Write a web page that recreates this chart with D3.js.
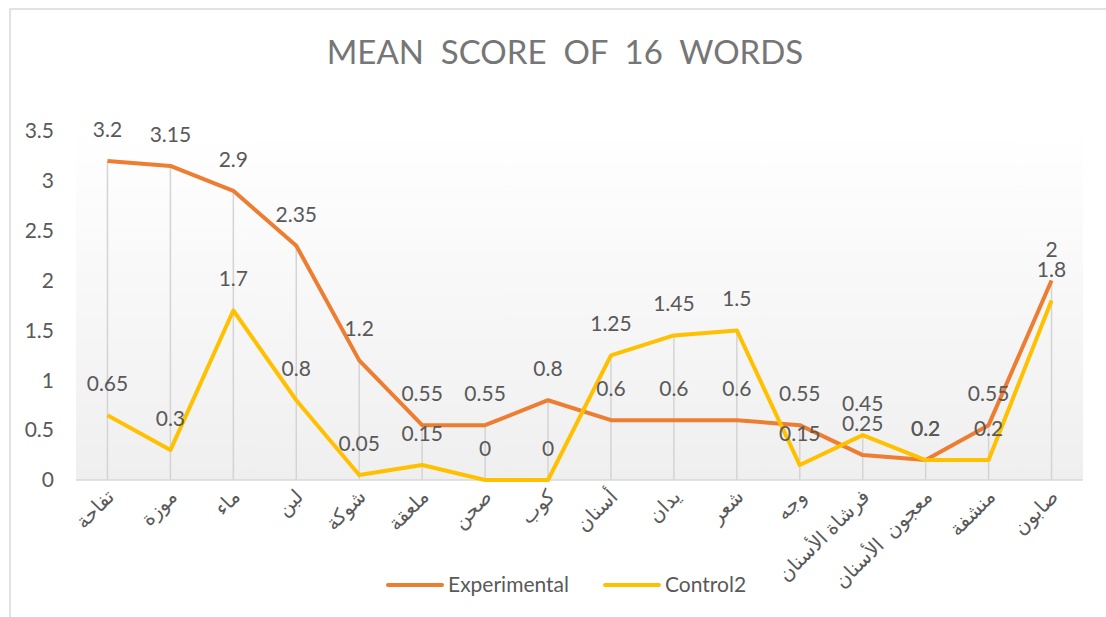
<!DOCTYPE html>
<html lang="en">
<head>
    <meta charset="utf-8">
    <script src="https://d3js.org/d3.v7.min.js"></script>
    <style>
        body { margin: 0; background: #fff; }
        text { font-family: Lato, "DejaVu Sans", sans-serif; }
    </style>
</head>
<body>
    <div id="chart"></div>
    <script>
        // data
        var words = ["تفاحة", "موزة", "ماء", "لبن", "شوكة", "ملعقة", "صحن", "كوب", "أسنان", "يدان", "شعر", "وجه", "فرشاة الأسنان", "معجون  الأسنان", "منشفة", "صابون"];
        var experimental = [3.2, 3.15, 2.9, 2.35, 1.2, 0.55, 0.55, 0.8, 0.6, 0.6, 0.6, 0.55, 0.25, 0.2, 0.55, 2];
        var control2 = [0.65, 0.3, 1.7, 0.8, 0.05, 0.15, 0, 0, 1.25, 1.45, 1.5, 0.15, 0.45, 0.2, 0.2, 1.8];
        var yTicks = [0, 0.5, 1, 1.5, 2, 2.5, 3, 3.5];
        var seriesNames = ["Experimental", "Control2"];
        var seriesColors = ["#ED7D31", "#FFC000"];

        var width = 1106, height = 617;
        var plot = { left: 76, right: 1083, top: 131, bottom: 480 };

        var svg = d3.select("#chart").append("svg")
            .attr("width", width)
            .attr("height", height);

        // chart border
        svg.append("rect")
            .attr("x", 10).attr("y", 9)
            .attr("width", width).attr("height", height)
            .attr("fill", "#fff")
            .attr("stroke", "#d9d9d9")
            .attr("stroke-width", 1.5);

        var defs = svg.append("defs");
        var grad = defs.append("linearGradient")
            .attr("id", "bg").attr("x1", 0).attr("y1", 0).attr("x2", 0).attr("y2", 1);
        grad.append("stop").attr("offset", "0%").attr("stop-color", "#ffffff");
        grad.append("stop").attr("offset", "100%").attr("stop-color", "#efefef");

        var x = d3.scalePoint()
            .domain(d3.range(words.length))
            .range([plot.left, plot.right])
            .padding(0.5);

        var y = d3.scaleLinear()
            .domain([0, 3.5])
            .range([plot.bottom, plot.top]);

        // plot area
        svg.append("rect")
            .attr("x", plot.left).attr("y", plot.top)
            .attr("width", plot.right - plot.left)
            .attr("height", plot.bottom - plot.top)
            .attr("fill", "url(#bg)");

        // title
        svg.append("text")
            .attr("x", 565).attr("y", 64)
            .attr("text-anchor", "middle")
            .attr("font-size", 33)
            .attr("fill", "#767676")
            .style("white-space", "pre")
            .text("MEAN  SCORE  OF  16  WORDS");

        // drop lines from the higher point down to the axis
        svg.append("g")
            .selectAll("line")
            .data(d3.range(words.length))
            .join("line")
            .attr("x1", i => x(i)).attr("x2", i => x(i))
            .attr("y1", i => y(Math.max(experimental[i], control2[i])))
            .attr("y2", y(0))
            .attr("stroke", "#d4d4d4")
            .attr("stroke-width", 1.5);

        // y axis labels
        var yAxis = svg.append("g")
            .attr("transform", `translate(${plot.left - 22},0)`)
            .call(d3.axisLeft(y).tickValues(yTicks).tickSize(0).tickPadding(0).tickFormat(d3.format("")));
        yAxis.select(".domain").remove();
        yAxis.selectAll("text")
            .attr("font-size", 21)
            .attr("fill", "#595959")
            .style("font-family", "Lato, 'DejaVu Sans', sans-serif");

        // x axis line
        svg.append("line")
            .attr("x1", plot.left).attr("x2", plot.right)
            .attr("y1", y(0)).attr("y2", y(0))
            .attr("stroke", "#d9d9d9")
            .attr("stroke-width", 1.5);

        // x labels, rotated
        svg.append("g")
            .selectAll("text")
            .data(words)
            .join("text")
            .attr("transform", (d, i) => `translate(${x(i) + 8},${y(0) + 18}) rotate(-45)`)
            .attr("text-anchor", "end")
            .attr("font-size", 20)
            .attr("fill", "#595959")
            .style("white-space", "pre")
            .text(d => d);

        var line = d3.line()
            .x((d, i) => x(i))
            .y(d => y(d));

        var series = [experimental, control2];

        svg.append("g")
            .selectAll("path")
            .data(series)
            .join("path")
            .attr("fill", "none")
            .attr("stroke", (d, i) => seriesColors[i])
            .attr("stroke-width", 4)
            .attr("stroke-linejoin", "round")
            .attr("d", d => line(d));

        // value labels
        series.forEach(function(s) {
            svg.append("g")
                .selectAll("text")
                .data(s)
                .join("text")
                .attr("x", (d, i) => x(i))
                .attr("y", d => y(d) - 24)
                .attr("text-anchor", "middle")
                .attr("font-size", 21)
                .attr("fill", "#595959")
                .text(d => d);
        });

        // legend
        var legend = svg.append("g");
        var legendX = [388, 605];
        seriesNames.forEach(function(name, i) {
            legend.append("line")
                .attr("x1", legendX[i]).attr("x2", legendX[i] + 54)
                .attr("y1", 585).attr("y2", 585)
                .attr("stroke", seriesColors[i])
                .attr("stroke-width", 4)
                .attr("stroke-linecap", "round");
            legend.append("text")
                .attr("x", legendX[i] + 60).attr("y", 592)
                .attr("font-size", 21)
                .attr("fill", "#595959")
                .text(name);
        });
    </script>
</body>
</html>
